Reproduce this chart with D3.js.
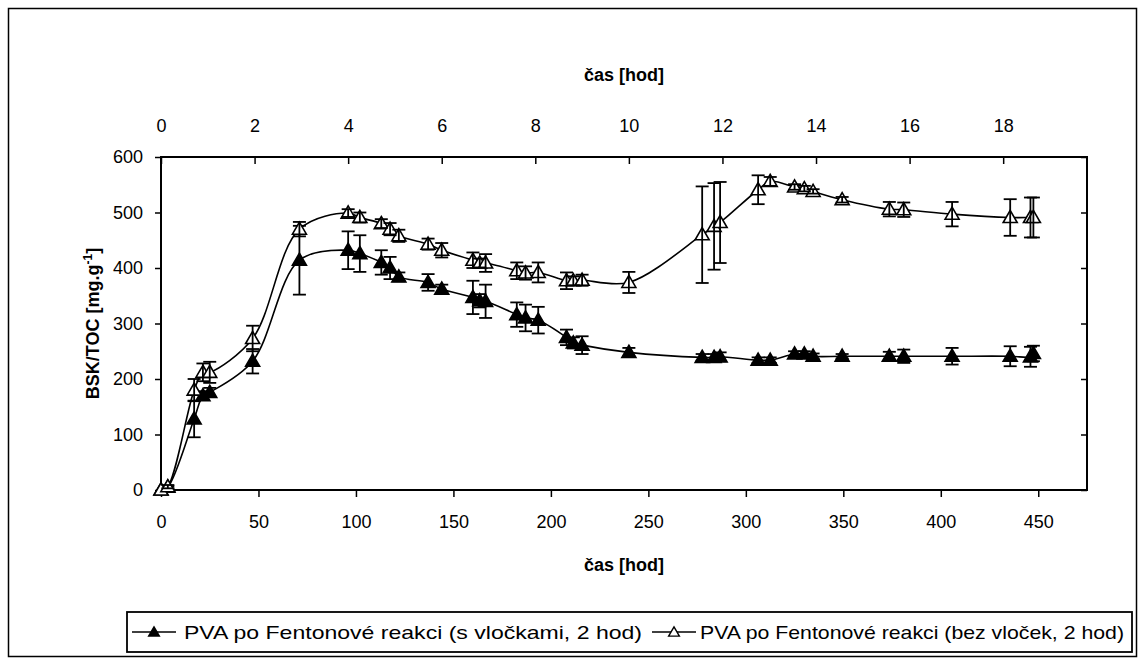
<!DOCTYPE html>
<html><head><meta charset="utf-8">
<script src="https://cdn.jsdelivr.net/npm/d3@7"></script>
<style>
body{margin:0;background:#fff;}
svg{display:block;}
</style></head><body>
<svg id="chart" width="1145" height="664"></svg>
<script>
// ---- data ----
const times = [0, 3.5, 17, 21.5, 25, 47, 71, 96, 102, 113, 117.5, 122, 137, 144, 160, 163.5, 166.5, 182.5, 187, 193.5, 208, 211.5, 216, 240, 277.6, 283.7, 286.8, 306.3, 312.5, 325, 330, 334.5, 349.4, 373.6, 381, 405.8, 435.6, 446, 447.5];
const valuesFilled = [0, 5, 128, 170, 176, 232, 414, 432, 426, 410, 400, 384, 374, 362, 347, 341, 340, 316, 310, 306, 275, 265, 261, 248, 239, 239, 240, 234, 234, 245, 245, 241, 241, 241, 241, 241, 241, 240, 246];
const errorsFilled = [0, 2, 33, 8, 8, 22, 62, 34, 33, 22, 20, 8, 15, 8, 30, 12, 30, 22, 24, 24, 14, 10, 16, 8, 6, 6, 8, 5, 5, 5, 5, 5, 4, 8, 12, 15, 18, 18, 14];
const valuesOpen = [0, 6, 180, 212, 212, 273, 470, 499, 491, 480, 470, 458, 443, 432, 414, 409, 409, 395, 391, 392, 377, 377, 378, 374, 460, 475, 482, 541, 556, 546, 543, 538, 523, 506, 505, 497, 491, 491, 491];
const errorsOpen = [0, 3, 20, 16, 19, 23, 13, 7, 9, 8, 11, 11, 10, 13, 14, 8, 16, 15, 12, 18, 15, 8, 10, 19, 87, 78, 73, 26, 8, 5, 5, 4, 5, 13, 13, 22, 33, 36, 36];
const bottomTicks = [0, 50, 100, 150, 200, 250, 300, 350, 400, 450];
const topTicks = [0, 2, 4, 6, 8, 10, 12, 14, 16, 18];
const yTicks = [0, 100, 200, 300, 400, 500, 600];
const seriesNames = ["PVA po Fentonové reakci (s vločkami, 2 hod)", "PVA po Fentonové reakci (bez vloček, 2 hod)"];
const axisTitleX = "čas [hod]";

// ---- drawing ----
const W = 1145, H = 664;
const FONT = "'Liberation Sans', Arial, sans-serif";
const svg = d3.select("#chart");
svg.append("rect").attr("width", W).attr("height", H).attr("fill", "#fff");
svg.append("rect").attr("x", 8.5).attr("y", 8.5).attr("width", 1128).attr("height", 648)
  .attr("fill", "none").attr("stroke", "#000").attr("stroke-width", 1.5);

const plot = {left: 161, right: 1087, top: 157, bottom: 490};
const x = d3.scaleLinear().domain([0, 475]).range([plot.left, plot.right]);
const xTop = d3.scaleLinear().domain([0, 475 / 24]).range([plot.left, plot.right]);
const y = d3.scaleLinear().domain([0, 600]).range([plot.bottom, plot.top]);

function styleAxis(g) {
  g.attr("font-family", FONT).attr("font-size", 18);
  g.select(".domain").remove();
  g.selectAll(".tick line").attr("stroke", "#000").attr("stroke-width", 1.5);
  g.selectAll(".tick text").attr("fill", "#000");
}

svg.append("g").attr("transform", `translate(0,${plot.bottom})`)
  .call(d3.axisBottom(x).tickValues(bottomTicks).tickSizeInner(7).tickSizeOuter(0).tickPadding(18))
  .call(styleAxis);
svg.append("g").attr("transform", `translate(0,${plot.top})`)
  .call(d3.axisTop(xTop).tickValues(topTicks).tickSizeInner(-7).tickSizeOuter(0).tickPadding(25))
  .call(styleAxis);
svg.append("g").attr("transform", `translate(${plot.left},0)`)
  .call(d3.axisLeft(y).tickValues(yTicks).tickSizeInner(6).tickSizeOuter(0).tickPadding(12))
  .call(styleAxis);
svg.append("g").attr("transform", `translate(${plot.right},0)`)
  .call(d3.axisRight(y).tickValues(yTicks).tickSizeInner(-6).tickSizeOuter(0).tickFormat(""))
  .call(styleAxis);

svg.append("rect").attr("x", plot.left).attr("y", plot.top)
  .attr("width", plot.right - plot.left).attr("height", plot.bottom - plot.top)
  .attr("fill", "none").attr("stroke", "#000").attr("stroke-width", 2);

// axis titles
const cx = (plot.left + plot.right) / 2;
svg.append("text").attr("x", cx).attr("y", 81).attr("text-anchor", "middle")
  .attr("font-family", FONT).attr("font-size", 18).attr("font-weight", "bold").text(axisTitleX);
svg.append("text").attr("x", cx).attr("y", 571).attr("text-anchor", "middle")
  .attr("font-family", FONT).attr("font-size", 18).attr("font-weight", "bold").text(axisTitleX);
const yt = svg.append("text").attr("transform", `translate(99,${(plot.top + plot.bottom) / 2}) rotate(-90)`)
  .attr("text-anchor", "middle").attr("font-family", FONT).attr("font-size", 18).attr("font-weight", "bold");
yt.append("tspan").text("BSK/TOC [mg.g");
yt.append("tspan").attr("font-size", 12).attr("dy", -7).text("-1");
yt.append("tspan").attr("dy", 7).text("]");

// series
const line = d3.line().curve(d3.curveCatmullRom.alpha(0.5));
const series = [
  {vals: valuesFilled, errs: errorsFilled, fill: "#000"},
  {vals: valuesOpen, errs: errorsOpen, fill: "#fff"}
];
const tri = d3.symbol().type(d3.symbolTriangle).size(85);

series.forEach(s => {
  const pts = times.map((t, i) => [x(t), y(s.vals[i])]);
  svg.append("path").attr("d", line(pts)).attr("fill", "none").attr("stroke", "#000").attr("stroke-width", 1.6);
});
series.forEach(s => {
  const g = svg.append("g");
  times.forEach((t, i) => {
    g.append("path").attr("d", tri()).attr("transform", `translate(${x(t)},${y(s.vals[i]) + 1})`)
      .attr("fill", s.fill).attr("stroke", "#000").attr("stroke-width", 1.6);
  });
  times.forEach((t, i) => {
    const e = s.errs[i];
    if (!e) return;
    const xx = x(t), y1 = y(s.vals[i] - e), y2 = y(s.vals[i] + e);
    g.append("line").attr("x1", xx).attr("x2", xx).attr("y1", y1).attr("y2", y2).attr("stroke", "#000").attr("stroke-width", 1.8);
    [y1, y2].forEach(yy => g.append("line").attr("x1", xx - 6.5).attr("x2", xx + 6.5).attr("y1", yy).attr("y2", yy)
      .attr("stroke", "#000").attr("stroke-width", 1.8));
  });
});

// legend
const lg = svg.append("g");
lg.append("rect").attr("x", 127).attr("y", 612).attr("width", 1005).attr("height", 40)
  .attr("fill", "#fff").attr("stroke", "#000").attr("stroke-width", 1.8);
const entries = [
  {x0: 132, tx: 184, len: 458, fill: "#000"},
  {x0: 652, tx: 700, len: 424, fill: "#fff"}
];
entries.forEach((e, i) => {
  lg.append("line").attr("x1", e.x0).attr("x2", e.x0 + 44).attr("y1", 632).attr("y2", 632)
    .attr("stroke", "#000").attr("stroke-width", 1.6);
  lg.append("path").attr("d", d3.symbol().type(d3.symbolTriangle).size(50)())
    .attr("transform", `translate(${e.x0 + 22},633)`).attr("fill", e.fill).attr("stroke", "#000").attr("stroke-width", 1.4);
  lg.append("text").attr("x", e.tx).attr("y", 639).attr("font-family", "'Liberation Sans Narrow', 'Arial Narrow', " + FONT)
    .attr("font-size", 19).attr("textLength", e.len).attr("lengthAdjust", "spacingAndGlyphs").text(seriesNames[i]);
});
</script>
</body></html>
